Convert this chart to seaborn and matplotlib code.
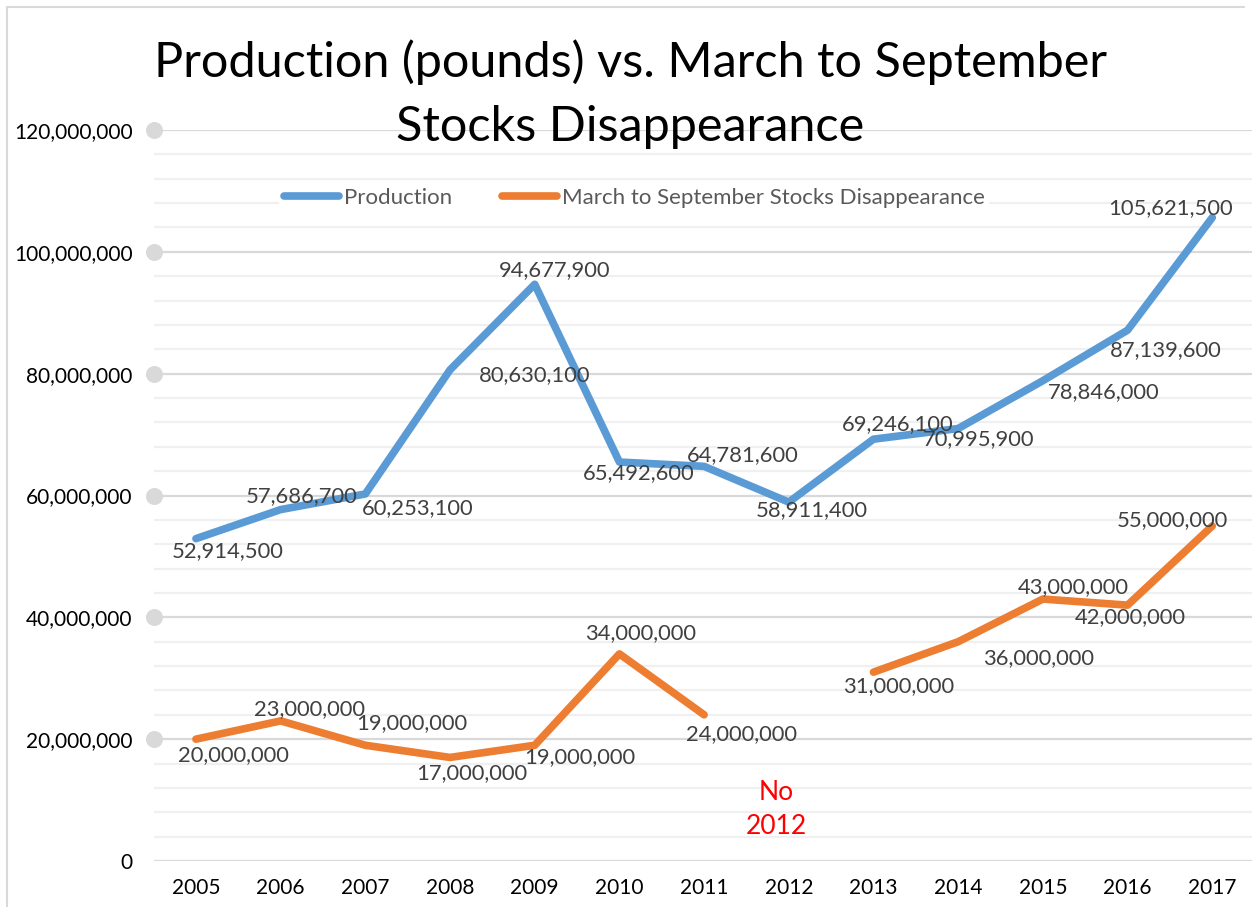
import matplotlib
matplotlib.use("Agg")
import matplotlib.pyplot as plt
import seaborn as sns
import numpy as np
import pandas as pd
from matplotlib.lines import Line2D
from matplotlib.ticker import MultipleLocator, FuncFormatter

# veriler
years = [2005, 2006, 2007, 2008, 2009, 2010, 2011, 2012, 2013, 2014, 2015, 2016, 2017]
production = [52914500, 57686700, 60253100, 80630100, 94677900, 65492600, 64781600,
              58911400, 69246100, 70995900, 78846000, 87139600, 105621500]
disappearance = [20000000, 23000000, 19000000, 17000000, 19000000, 34000000, 24000000,
                 np.nan, 31000000, 36000000, 43000000, 42000000, 55000000]

# etiket kaydirmalari (piksel)
prod_offsets = [(32, -12), (21, 13), (52, -14), (85, -5), (20, 14), (19, -11), (39, 11),
                (23, -8), (24, 15), (20, -11), (61, -11), (38, -20), (-42, 9)]
disp_offsets = [(37, -16), (29, 12), (46, 22), (22, -16), (45, -12), (21, 21), (37, -19),
                None, (25, -14), (80, -16), (30, 12), (3, -12), (-40, 6)]

BLUE = "#5B9BD5"
ORANGE = "#ED7D31"
FONT = ["Lato", "DejaVu Sans"]

sns.set_theme(style="white")
plt.rcParams["font.family"] = FONT

# uzun tablo; 2012 boslugu icin segment
rows = []
for i, (p, d) in enumerate(zip(production, disappearance)):
    rows.append({"x": i, "value": p, "series": "Production", "seg": "p"})
    if not np.isnan(d):
        rows.append({"x": i, "value": d, "series": "March to September Stocks Disappearance",
                     "seg": "d1" if i < 7 else "d2"})
df = pd.DataFrame(rows)

fig = plt.figure(figsize=(12.52, 9.07), dpi=100)
ax = fig.add_axes([153.6 / 1252, 46 / 907, 1101 / 1252, 731 / 907])

sns.lineplot(data=df, x="x", y="value", hue="series", units="seg", estimator=None,
             palette={"Production": BLUE, "March to September Stocks Disappearance": ORANGE},
             linewidth=5.5, ax=ax, legend=False, zorder=3,
             solid_capstyle="round", solid_joinstyle="round")

ax.set_xlim(-0.5, len(years) - 0.5)
ax.set_ylim(0, 120000000)
ax.set_xticks(range(len(years)))
ax.set_xticklabels([str(y) for y in years])
ax.yaxis.set_major_locator(MultipleLocator(20000000))
ax.yaxis.set_minor_locator(MultipleLocator(4000000))
ax.yaxis.set_major_formatter(FuncFormatter(lambda v, _: f"{int(v):,}"))
ax.grid(which="major", axis="y", color="#D9D9D9", linewidth=1.6, zorder=0)
ax.grid(which="minor", axis="y", color="#F0F0F0", linewidth=1.6, zorder=0)
ax.grid(axis="x", visible=False)
for s in ax.spines.values():
    s.set_visible(False)
ax.tick_params(axis="y", which="both", length=0, pad=15, labelsize=15, labelcolor="black")
ax.tick_params(axis="x", length=0, pad=12, labelsize=15, labelcolor="black")
ax.set_xlabel("")
ax.set_ylabel("")

# sol taraftaki gri noktalar
major = np.arange(20000000, 120000001, 20000000)
ax.scatter([-0.5] * len(major), major, s=150, color="#D9D9D9", clip_on=False, zorder=4,
           linewidths=0)

# veri etiketleri
for i, (v, off) in enumerate(zip(production, prod_offsets)):
    ax.annotate(f"{v:,}", (i, v), xytext=off, textcoords="offset pixels",
                ha="center", va="center", fontsize=15.8, color="#404040", zorder=5)
for i, (v, off) in enumerate(zip(disappearance, disp_offsets)):
    if off is None:
        continue
    ax.annotate(f"{int(v):,}", (i, v), xytext=off, textcoords="offset pixels",
                ha="center", va="center", fontsize=15.8, color="#404040", zorder=5)

ax.text(7 - 0.15, 8500000, "No\n2012", color="#FF0000", fontsize=19, ha="center",
        va="center", linespacing=1.45)

# lejant
handles = [Line2D([], [], color=BLUE, lw=5.5, solid_capstyle="round"),
           Line2D([], [], color=ORANGE, lw=5.5, solid_capstyle="round")]
leg = fig.legend(handles, ["Production", "March to September Stocks Disappearance"],
                 loc="center", bbox_to_anchor=(634 / 1252, 1 - 198 / 907), ncol=2,
                 frameon=True, facecolor="white", edgecolor="none", framealpha=1,
                 fontsize=16, handlelength=2.5, handletextpad=0.2, columnspacing=2.25,
                 labelcolor="#595959", borderpad=0.2)

# baslik
fig.text(631 / 1252, 1 - 62 / 907, "Production (pounds) vs. March to September",
         ha="center", va="center", fontsize=35, color="black")
fig.text(630 / 1252, 1 - 127 / 907, "Stocks Disappearance",
         ha="center", va="center", fontsize=35, color="black")

# cerceve
fig.add_artist(Line2D([7 / 1252, 7 / 1252], [0, 1 - 7 / 907], color="#D9D9D9", lw=1.5,
                      transform=fig.transFigure))
fig.add_artist(Line2D([7 / 1252, 1244 / 1252], [1 - 7 / 907, 1 - 7 / 907], color="#D9D9D9",
                      lw=1.5, transform=fig.transFigure))

fig.savefig("out.png", dpi=100)
